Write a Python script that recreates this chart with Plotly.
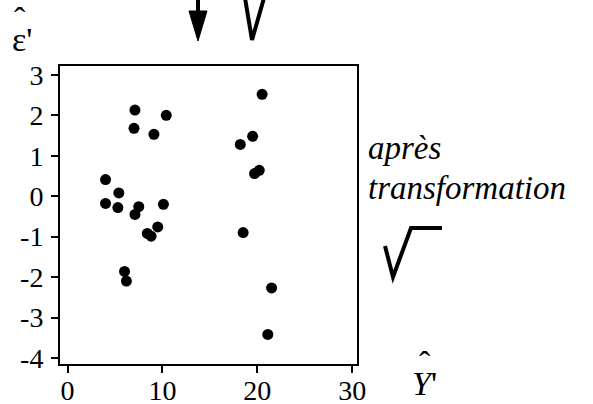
import plotly.graph_objects as go

# Fitted values (after square-root transform) and residuals
y_hat = [7.1, 7.0, 10.4, 9.1, 4.0, 5.4, 4.0, 5.3, 7.5, 7.1, 10.1, 9.5, 8.4, 8.8,
         6.0, 6.2, 20.5, 19.5, 18.2, 19.7, 20.2, 18.5, 21.5, 21.1]
resid = [2.13, 1.68, 2.0, 1.53, 0.41, 0.08, -0.18, -0.28, -0.26, -0.45, -0.2, -0.76,
         -0.92, -0.99, -1.86, -2.1, 2.52, 1.48, 1.28, 0.56, 0.64, -0.9, -2.27, -3.42]

x_ticks = [0, 10, 20, 30]
x_tick_text = ["0", "10", "20", "30"]
y_ticks = [-4, -3, -2, -1, 0, 1, 2, 3]
y_tick_text = ["-4", "-3", "-2", "-1", "0", "1", "2", "3"]

W, H = 593, 404
L, R, T, B = 60, 357, 66, 364


def px(x):
    return (x - L) / (R - L)


def py(y):
    return (B - y) / (B - T)


def path(points, close=False):
    s = "M " + " L ".join(f"{px(a):.4f},{py(b):.4f}" for a, b in points)
    return s + (" Z" if close else "")


SERIF = "Liberation Serif"

fig = go.Figure()
fig.add_trace(go.Scatter(
    x=y_hat, y=resid, mode="markers",
    marker=dict(color="black", size=11),
))

fig.update_layout(
    width=W, height=H,
    margin=dict(l=L, r=W - R, t=T, b=H - B, autoexpand=False),
    paper_bgcolor="white", plot_bgcolor="white",
    showlegend=False,
    font=dict(family=SERIF, size=28, color="black"),
)
fig.update_xaxes(
    range=[-0.8, 30.5], tickvals=x_ticks, ticktext=x_tick_text,
    ticks="outside", ticklen=7, tickwidth=2, tickcolor="black",
    showline=True, linewidth=2, linecolor="black", mirror=True,
    showgrid=False, zeroline=False, automargin=False,
    tickfont=dict(family=SERIF, size=28, color="black"), ticklabelstandoff=-7,
)
fig.update_yaxes(
    range=[-4.15, 3.22], tickvals=y_ticks, ticktext=y_tick_text,
    ticks="outside", ticklen=7, tickwidth=2, tickcolor="black",
    showline=True, linewidth=2, linecolor="black", mirror=True,
    showgrid=False, zeroline=False, automargin=False,
    tickfont=dict(family=SERIF, size=28, color="black"), ticklabelstandoff=2,
)

# arrow pointing down at the top
fig.add_shape(type="line", xref="paper", yref="paper",
              x0=px(198), y0=py(-2), x1=px(198), y1=py(12),
              line=dict(color="black", width=4))
fig.add_shape(type="path", xref="paper", yref="paper",
              path=path([(189, 11), (207, 11), (198, 41)], close=True),
              fillcolor="black", line=dict(color="black", width=1))
# radical stub at the top
fig.add_shape(type="path", xref="paper", yref="paper",
              path=path([(245, -2), (252, 40), (264, -2)]),
              line=dict(color="black", width=4))
# radical sign on the right
fig.add_shape(type="path", xref="paper", yref="paper",
              path=path([(385, 246), (393, 277), (411, 228), (442, 228)]),
              line=dict(color="black", width=4))

labels = [
    ("ε'", 10, 60, "left", 34),
    ("ˆ", 20, 40, "center", 34),
    ("<i>Y</i>'", 410, 404, "left", 34),
    ("ˆ", 425, 384, "center", 34),
    ("<i>après</i>", 366, 168, "left", 33),
    ("<i>transformation</i>", 366, 208, "left", 33),
]
for text, x, y, anchor, size in labels:
    fig.add_annotation(text=text, x=px(x), y=py(y), xref="paper", yref="paper",
                       xanchor=anchor, yanchor="bottom", showarrow=False,
                       font=dict(family=SERIF, size=size, color="black"))

fig.write_html("out.html")
